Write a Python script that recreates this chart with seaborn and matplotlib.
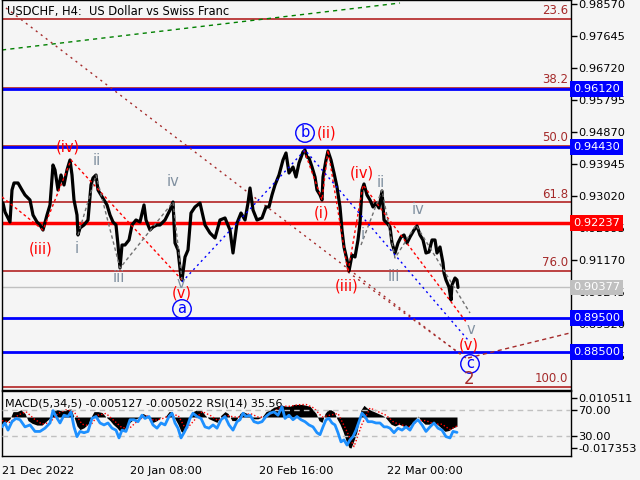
import numpy as np
import pandas as pd
import matplotlib
matplotlib.use('Agg')
import matplotlib.pyplot as plt
import seaborn as sns

sns.set_style('white')
plt.rcParams['font.family'] = ['DejaVu Sans']

BG = '#f5f5f5'

# price (H4 closes, bar number on x)
bars = [3, 5, 8, 10, 12, 14, 18, 22, 25, 30, 33, 37, 40, 43, 47, 50, 53, 55, 58, 61,
        64, 67, 70, 72, 74, 77, 78, 80, 84, 88, 91, 93, 96, 98, 101, 104, 107, 110, 113, 116,
        118, 120, 122, 125, 129, 132, 136, 140, 144, 146, 150, 153, 157, 160, 165, 170, 173, 175, 178, 181,
        182, 185, 188, 191, 195, 200, 205, 210, 215, 220, 225, 230, 233, 237, 241, 245, 248, 250, 253, 257,
        262, 266, 269, 272, 275, 279, 283, 286, 289, 293, 296, 299, 303, 305, 307, 309, 312, 315, 317, 320,
        322, 323, 326, 328, 331, 334, 337, 340, 342, 344, 347, 349, 352, 355, 358, 360, 362, 364, 367, 370,
        373, 376, 379, 382, 384, 387, 390, 392, 395, 398, 401, 404, 407, 410, 414, 417, 420, 423, 426, 429,
        432, 435, 437, 440, 443, 444, 446, 449, 451, 452, 455, 457, 458]
close = [0.92817, 0.92557, 0.92384, 0.92268, 0.93193, 0.93396, 0.93396, 0.93193, 0.93049, 0.92904,
         0.92470, 0.92268, 0.92181, 0.92036, 0.92470, 0.92760, 0.93916, 0.93771, 0.93193, 0.93627,
         0.93338, 0.93771, 0.94060, 0.93627, 0.92904, 0.92470, 0.91892, 0.92094, 0.92181, 0.92326,
         0.93338, 0.93540, 0.93627, 0.93193, 0.93049, 0.92904, 0.92760, 0.92470, 0.92268, 0.92181,
         0.91603, 0.90938, 0.91603, 0.91603, 0.91748, 0.92181, 0.92326, 0.92268, 0.92760, 0.92326,
         0.92036, 0.92123, 0.92181, 0.92181, 0.92326, 0.92615, 0.92846, 0.91661, 0.91459, 0.90649,
         0.90591, 0.91256, 0.91459, 0.92528, 0.92702, 0.92817, 0.92181, 0.91950, 0.91805, 0.92326,
         0.92384, 0.92036, 0.91372, 0.92239, 0.92528, 0.92326, 0.92817, 0.93251, 0.92615, 0.92326,
         0.92384, 0.92702, 0.92702, 0.93049, 0.93338, 0.93627, 0.94060, 0.94263, 0.93685, 0.93858,
         0.93569, 0.93974, 0.94292, 0.94349, 0.94147, 0.94118, 0.93858, 0.93569, 0.93193, 0.93049,
         0.92904, 0.93569, 0.94060, 0.94321, 0.94060, 0.93685, 0.93280, 0.92702, 0.92036, 0.91545,
         0.91170, 0.90851, 0.91314, 0.91256, 0.91748, 0.92239, 0.93193, 0.93367, 0.93049, 0.92904,
         0.92702, 0.92817, 0.92673, 0.93164, 0.92326, 0.92239, 0.92123, 0.91661, 0.91372, 0.91661,
         0.91834, 0.91892, 0.91661, 0.91834, 0.92036, 0.92152, 0.91892, 0.91748, 0.91372, 0.91401,
         0.91748, 0.91748, 0.91372, 0.91545, 0.91083, 0.90794, 0.90591, 0.90389, 0.90013, 0.90447,
         0.90649, 0.90591, 0.90377]

# MACD(5,34,5) main values
macd_x = [2, 6, 10, 13, 17, 21, 25, 28, 32, 37, 42, 47, 51, 54, 58, 62, 66, 71, 74, 77,
          80, 84, 88, 91, 94, 98, 102, 106, 110, 113, 117, 120, 124, 128, 132, 136, 140, 143, 146, 150,
          153, 157, 161, 165, 169, 172, 175, 178, 181, 184, 187, 190, 193, 197, 201, 205, 209, 213, 217, 221,
          225, 228, 232, 236, 240, 243, 247, 250, 254, 258, 262, 266, 270, 274, 278, 282, 286, 290, 294, 298,
          302, 306, 310, 313, 316, 319, 322, 325, 328, 331, 334, 337, 340, 343, 346, 349, 351, 354, 357, 359,
          361, 364, 367, 370, 374, 378, 382, 385, 388, 391, 395, 399, 403, 407, 411, 414, 418, 421, 425, 429,
          433, 437, 441, 445, 449, 453, 457]
macd = [-0.003, -0.003, -0.001, 0.003, 0.003, 0.004, 0.002, -0.002, -0.0035, -0.0045,
        -0.0045, -0.002, 0.0, 0.004, 0.004, 0.0035, 0.004, 0.0045, 0.0, -0.005,
        -0.007, -0.006, -0.004, 0.0, 0.003, 0.003, 0.0025, 0.0, -0.002, -0.004,
        -0.006, -0.008, -0.007, -0.004, -0.002, -0.001, 0.0, 0.002, 0.001, -0.002,
        -0.003, -0.002, 0.0, 0.0, 0.003, 0.003, -0.001, -0.004, -0.008, -0.009,
        -0.005, -0.001, 0.003, 0.004, 0.004, 0.001, -0.001, -0.002, -0.003, 0.001,
        0.003, 0.002, -0.002, -0.002, 0.002, 0.003, 0.002, 0.0, -0.001, -0.001,
        0.0, 0.003, 0.004, 0.0055, 0.006, 0.0065, 0.006, 0.006, 0.007, 0.007,
        0.007, 0.0065, 0.006, 0.004, 0.002, -0.002, -0.003, 0.002, 0.004, 0.004,
        0.003, -0.001, -0.004, -0.008, -0.013, -0.017, -0.0173, -0.013, -0.008, -0.002,
        0.004, 0.0065, 0.005, 0.004, 0.003, 0.002, 0.001, 0.0, -0.002, -0.004,
        -0.005, -0.004, -0.005, -0.006, -0.004, -0.002, 0.0005, -0.002, -0.004, -0.004,
        -0.003, -0.004, -0.006, -0.008, -0.0075, -0.006, -0.005127]

# MACD signal line
sig_x = [2, 10, 18, 26, 34, 42, 50, 58, 66, 74, 82, 90, 98, 106, 114, 122, 130, 138, 146, 154,
         162, 170, 178, 186, 194, 202, 210, 218, 226, 234, 242, 250, 258, 266, 274, 282, 290, 298, 306, 314,
         322, 330, 338, 346, 354, 362, 370, 378, 386, 394, 402, 410, 418, 426, 434, 442, 450, 457]
sig = [-0.002, -0.003, 0.001, 0.003, -0.001, -0.004, -0.003, 0.002, 0.004, 0.003,
       -0.004, -0.005, 0.001, 0.002, -0.002, -0.006, -0.006, -0.002, 0.001, -0.002,
       -0.001, 0.001, 0.001, -0.007, -0.002, 0.003, 0.001, -0.002, 0.001, 0.0,
       0.0, 0.002, 0.0, 0.0, 0.003, 0.006, 0.006, 0.0068, 0.007, 0.005,
       0.0, 0.001, 0.002, -0.007, -0.0165, -0.004, 0.005, 0.003, 0.001, -0.003,
       -0.0045, -0.0055, -0.002, -0.002, -0.004, -0.004, -0.007, -0.005022]

# RSI(14)
rsi_x = [2, 5, 8, 12, 16, 20, 25, 30, 35, 40, 45, 50, 53, 56, 60, 64, 68, 71, 74, 77,
         80, 84, 88, 92, 96, 100, 104, 108, 112, 116, 119, 122, 126, 130, 134, 138, 142, 145, 149, 153,
         157, 161, 165, 169, 172, 175, 178, 181, 184, 187, 190, 193, 197, 201, 205, 209, 213, 217, 221, 225,
         229, 233, 237, 240, 243, 246, 250, 254, 258, 262, 266, 270, 274, 278, 282, 285, 289, 293, 297, 301,
         305, 309, 313, 317, 320, 323, 326, 329, 332, 335, 338, 341, 344, 347, 350, 353, 356, 359, 362, 365,
         368, 372, 376, 380, 384, 387, 390, 394, 398, 402, 406, 410, 414, 418, 422, 426, 430, 434, 438, 442,
         446, 450, 453, 457]
rsi = [44, 50, 39, 52, 57, 55, 44, 47, 37, 37, 42, 50, 69, 60, 50, 62, 60, 67, 44, 29,
       37, 35, 37, 57, 60, 50, 47, 50, 42, 39, 27, 39, 37, 55, 55, 52, 62, 57, 60, 47,
       42, 50, 47, 60, 65, 50, 42, 27, 35, 44, 57, 65, 60, 57, 44, 42, 47, 42, 55, 60,
       47, 39, 52, 55, 65, 60, 62, 52, 50, 52, 60, 65, 67, 62, 75, 57, 62, 55, 60, 55,
       52, 47, 44, 35, 32, 44, 55, 57, 50, 47, 35, 21, 24, 16, 24, 29, 39, 52, 65, 60,
       52, 52, 50, 50, 44, 44, 42, 35, 42, 39, 44, 39, 50, 55, 47, 37, 44, 50, 42, 39,
       29, 27, 37, 35.56]

# levels
fib_labels = ['23.6', '38.2', '50.0', '61.8', '76.0', '100.0']
fib_prices = [0.98140, 0.96150, 0.94474, 0.92835, 0.90860, 0.87498]
blue_levels = [0.96120, 0.94430, 0.89500, 0.88500]
red_level = 0.92237
last_price = 0.90377
price_ticks = [0.98570, 0.97645, 0.96720, 0.95795, 0.94870, 0.93945,
               0.93020, 0.92095, 0.91170, 0.90245, 0.89320, 0.88395]

# wave counts
red_l_x = [2, 43, 71, 182]
red_l_p = [0.92991, 0.92036, 0.94060, 0.90591]
gray_l_x = [78, 96, 120, 173, 182]
gray_l_p = [0.91892, 0.93627, 0.90938, 0.92846, 0.90591]
blue_x = [182, 305, 468]
blue_p = [0.90533, 0.94349, 0.88857]
red_r_x = [304, 322, 328, 348, 363, 467]
red_r_p = [0.94349, 0.92904, 0.94349, 0.90822, 0.93338, 0.89348]
gray_r_x = [361, 382, 395, 416, 470]
gray_r_p = [0.91603, 0.93193, 0.91227, 0.92181, 0.89637]

wave_labels = [
    ('(iv)', 68, 0.94436, 'red'), ('ii', 97, 0.94032, 'gray'), ('iv', 173, 0.93425, 'gray'),
    ('(iii)', 41, 0.91488, 'red'), ('i', 77, 0.91516, 'gray'), ('iii', 119, 0.90649, 'gray'),
    ('v', 181, 0.90476, 'gray'), ('(v)', 182, 0.90216, 'red'), ('a', 182, 0.89753, 'circle'),
    ('b', 305, 0.94841, 'circle'), ('(ii)', 327, 0.94841, 'red'), ('(iv)', 362, 0.93685, 'red'),
    ('ii', 381, 0.93396, 'gray'), ('(i)', 322, 0.92528, 'red'), ('iv', 418, 0.92615, 'gray'),
    ('i', 363, 0.91921, 'gray'), ('iii', 394, 0.90678, 'gray'), ('(iii)', 347, 0.90418, 'red'),
    ('v', 471, 0.89146, 'gray'), ('(v)', 469, 0.88712, 'red'), ('c', 470, 0.88163, 'circle'),
    ('2', 469, 0.87729, 'brown'),
]

W, H = 640, 480
fig = plt.figure(figsize=(6.4, 4.8), dpi=100, facecolor=BG)
ax = fig.add_axes([2 / W, 1 - 390 / H, 569 / W, 390 / H])
ai = fig.add_axes([2 / W, 1 - 456 / H, 569 / W, 65 / H])
for a in (ax, ai):
    a.set_facecolor(BG)
    for s in a.spines.values():
        s.set_color('black')
        s.set_linewidth(1)
    a.set_xlim(2, 571)

ax.set_ylim(0.87411, 0.98686)

# horizontal levels
for p in fib_prices:
    ax.axhline(p, color='#b22222', lw=1.2, zorder=1)
for lab, p in zip(fib_labels, fib_prices):
    ax.text(568, p + 0.0005, lab, color='#a52a2a', fontsize=8.5, ha='right', va='bottom', zorder=2)
for p in blue_levels:
    ax.axhline(p, color='#0000ff', lw=2, zorder=1.5)
ax.axhline(red_level, color='#ff0000', lw=2.5, zorder=1.5)
ax.axhline(last_price, color='#c0c0c0', lw=1, zorder=1.5)

# trend lines
ax.plot([2, 400], [0.97241, 0.98599], color='green', lw=1, ls=(0, (3, 3)), zorder=2)
ax.plot([6, 460], [0.98455, 0.88452], color='#a52a2a', lw=1, ls=(0, (1.5, 3)), zorder=2)
ax.plot([348, 466], [0.90822, 0.88336], color='#a52a2a', lw=1, ls=(0, (1.5, 3)), zorder=2)
ax.plot([468, 570], [0.88336, 0.89059], color='#a52a2a', lw=1, ls=(0, (3, 2.5)), zorder=2)

# price
price = pd.DataFrame({'bar': bars, 'close': close})
sns.lineplot(data=price, x='bar', y='close', ax=ax, color='black', lw=2.3, zorder=3)

# wave lines
ax.plot(red_l_x, red_l_p, color='red', lw=1, ls=(0, (2, 2)), zorder=4)
ax.plot(red_r_x, red_r_p, color='red', lw=1, ls=(0, (2, 2)), zorder=4)
ax.plot(gray_l_x, gray_l_p, color='#707070', lw=1, ls=(0, (2.5, 2)), zorder=4)
ax.plot(gray_r_x, gray_r_p, color='#707070', lw=1, ls=(0, (2.5, 2)), zorder=4)
ax.plot(blue_x, blue_p, color='blue', lw=1, ls=(0, (1.5, 2.5)), zorder=4)

for txt, x, p, kind in wave_labels:
    if kind == 'red':
        ax.text(x, p, txt, color='red', fontsize=10.5, ha='center', va='center', zorder=6)
    elif kind == 'gray':
        ax.text(x, p, txt, color='#8090a0', fontsize=10.5, ha='center', va='center', zorder=6)
    elif kind == 'circle':
        ax.text(x, p, txt, color='blue', fontsize=10.5, ha='center', va='center', zorder=6,
                bbox=dict(boxstyle='circle,pad=0.12', fc='none', ec='blue', lw=1))
    else:
        ax.text(x, p, txt, color='#a52a2a', fontsize=12, ha='center', va='center', zorder=6)

ax.text(7, 0.98686 - 12 * 0.0002891, 'USDCHF, H4:  US Dollar vs Swiss Franc',
        fontsize=8.3, ha='left', va='center', color='black')

# right price axis
ax.set_xticks([])
ax.set_xlabel('')
ax.set_ylabel('')
ax.yaxis.tick_right()
ax.set_yticks(price_ticks)
ax.set_yticklabels([f'{t:.5f}' for t in price_ticks])
ax.tick_params(axis='y', direction='out', length=4, width=1, pad=1, labelsize=8.2, colors='black')

boxes = [(0.96120, '#0000ff', 'white'), (0.94430, '#0000ff', 'white'), (red_level, '#ff0000', 'white'),
         (last_price, '#c0c0c0', 'white'), (0.89500, '#0000ff', 'white'), (0.88500, '#0000ff', 'white')]
for p, fc, tc in boxes:
    ax.text(1.004, p, f'{p:.5f}', transform=ax.get_yaxis_transform(), color=tc, fontsize=8.2,
            ha='left', va='center', zorder=10, clip_on=False,
            bbox=dict(boxstyle='square,pad=0.25', fc=fc, ec='none'))

# indicator window: MACD histogram + signal, RSI on twin axis
ai.fill_between(macd_x, 0, macd, color='black', lw=0, zorder=2)
sns.lineplot(x=sig_x, y=sig, ax=ai, color='red', lw=1, ls=(0, (1, 1.5)), zorder=3)
ai.set_ylim(-0.02173, 0.01449)

ar = ai.twinx()
ar.set_ylim(-0.8, 99.2)
ar.axhline(70, color='#c0c0c0', lw=1, ls=(0, (4, 3)))
ar.axhline(30, color='#c0c0c0', lw=1, ls=(0, (4, 3)))
sns.lineplot(x=rsi_x, y=rsi, ax=ar, color='#1e90ff', lw=2, zorder=4)
ar.set_xlim(2, 571)

ai.yaxis.tick_right()
ai.set_yticks([0.010511, -0.017353])
ai.set_yticklabels(['0.010511', '-0.017353'])
ar.set_yticks([70, 30])
ar.set_yticklabels(['70.00', '30.00'])
for a in (ai, ar):
    a.tick_params(axis='y', direction='out', length=4, width=1, pad=1, labelsize=8.2, colors='black')
    a.set_ylabel('')
for s in ar.spines.values():
    s.set_visible(False)

ai.set_xticks([2, 130, 259, 387])
ai.set_xticklabels(['21 Dec 2022', '20 Jan 08:00', '20 Feb 16:00', '22 Mar 00:00'])
for lab in ai.get_xticklabels():
    lab.set_ha('left')
ai.tick_params(axis='x', direction='out', length=5, width=1, pad=2, labelsize=8.2, colors='black')
ai.set_xlabel('')

ai.text(5, 0.0075, 'MACD(5,34,5) -0.005127 -0.005022 RSI(14) 35.56', fontsize=8,
        ha='left', va='center', color='black', zorder=6)

fig.savefig('out.png', dpi=100, facecolor=BG)
